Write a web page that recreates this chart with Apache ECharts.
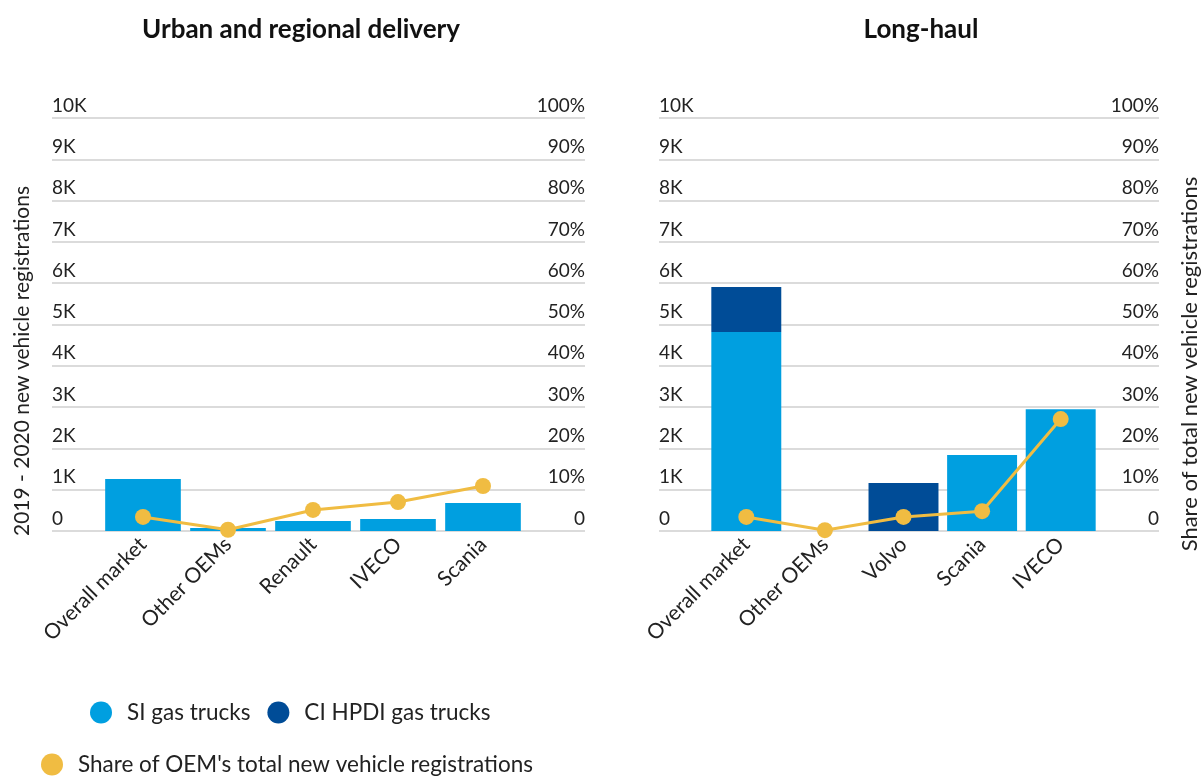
<!DOCTYPE html>
<html>
<head>
<meta charset="utf-8">
<script src="https://cdn.jsdelivr.net/npm/echarts@6/dist/echarts.min.js"></script>
<style>
  html, body { margin: 0; padding: 0; background: #fff; }
  #chart { width: 1202px; height: 776px; }
</style>
</head>
<body>
<div id="chart"></div>
<script>
// urban / regional delivery
const urbanCats = ["Overall market", "Other OEMs", "Renault", "IVECO", "Scania"];
const urbanSI = [1260, 75, 240, 290, 680];
const urbanShare = [3.4, 0.3, 5.1, 7.0, 10.9];

// long-haul
const longCats = ["Overall market", "Other OEMs", "Volvo", "Scania", "IVECO"];
const longSI = [4820, 0, 0, 1840, 2950];
const longCI = [1090, 0, 1160, 0, 0];
const longShare = [3.4, 0.2, 3.4, 4.8, 27.1];

const countTicks = [0, 10000];
const shareTicks = [0, 100];

const FONT = "Lato";
const TEXT = "#222";
const SI_COLOR = "#009fe0";
const CI_COLOR = "#004c97";
const LINE_COLOR = "#f0bc42";
const SHARE_NAME = "Share of OEM's total new vehicle registrations";

const chart = echarts.init(document.getElementById("chart"));

function countLabel(v) {
  return v === 0 ? "0" : v / 1000 + "K";
}
function shareLabel(v) {
  return v === 0 ? "0" : v + "%";
}

function frameAxes(gridIndex) {
  const labelBase = {
    inside: true,
    verticalAlign: "bottom",
    padding: [0, 0, 3, 0],
    fontSize: 19,
    fontFamily: FONT,
    color: TEXT,
  };
  return [
    {
      gridIndex: gridIndex,
      type: "value",
      position: "left",
      min: countTicks[0],
      max: countTicks[1],
      interval: 1000,
      axisLine: { show: false },
      axisTick: { show: false },
      splitLine: { show: true, lineStyle: { color: "#cfcfcf", width: 1.5 } },
      axisLabel: Object.assign({ formatter: countLabel, margin: 0 }, labelBase),
    },
    {
      gridIndex: gridIndex,
      type: "value",
      position: "right",
      min: shareTicks[0],
      max: shareTicks[1],
      interval: 10,
      axisLine: { show: false },
      axisTick: { show: false },
      splitLine: { show: false },
      axisLabel: Object.assign({ formatter: shareLabel, margin: 0 }, labelBase),
    },
  ];
}

function hiddenAxes(gridIndex) {
  return [
    { gridIndex: gridIndex, type: "value", min: countTicks[0], max: countTicks[1], show: false },
    { gridIndex: gridIndex, type: "value", min: shareTicks[0], max: shareTicks[1], show: false },
  ];
}

function catAxis(gridIndex, cats) {
  return {
    gridIndex: gridIndex,
    type: "category",
    data: cats,
    axisLine: { show: false },
    axisTick: { show: false },
    axisLabel: {
      rotate: 45,
      margin: 10,
      fontSize: 21,
      fontFamily: FONT,
      color: TEXT,
      interval: 0,
    },
  };
}

const lineStyle = {
  type: "line",
  symbol: "circle",
  symbolSize: 16,
  itemStyle: { color: LINE_COLOR },
  lineStyle: { color: LINE_COLOR, width: 3 },
  z: 5,
};

const titleStyle = { fontSize: 26, fontWeight: "bold", fontFamily: FONT, color: "#111" };
const legendText = { fontSize: 22.5, fontFamily: FONT, color: TEXT, padding: [0, 0, 0, 10] };

const option = {
  animation: false,
  textStyle: { fontFamily: FONT },
  title: [
    { text: "Urban and regional delivery", left: 296, top: 12, textAlign: "center", textStyle: titleStyle },
    { text: "Long-haul", left: 916, top: 12, textAlign: "center", textStyle: titleStyle },
  ],
  legend: [
    {
      left: 85,
      top: 696,
      icon: "circle",
      itemWidth: 22,
      itemHeight: 22,
      itemGap: 17,
      textStyle: legendText,
      data: ["SI gas trucks", "CI HPDI gas trucks"],
    },
    {
      left: 36,
      top: 748,
      icon: "circle",
      itemWidth: 22,
      itemHeight: 22,
      textStyle: legendText,
      data: [SHARE_NAME],
    },
  ],
  graphic: [
    {
      type: "text",
      x: 22,
      y: 361,
      rotation: Math.PI / 2,
      style: {
        text: "2019 - 2020 new vehicle registrations",
        fontSize: 21,
        fontFamily: FONT,
        fill: TEXT,
        align: "center",
        verticalAlign: "middle",
      },
    },
    {
      type: "text",
      x: 1190,
      y: 364,
      rotation: Math.PI / 2,
      style: {
        text: "Share of total new vehicle registrations",
        fontSize: 22,
        fontFamily: FONT,
        fill: TEXT,
        align: "center",
        verticalAlign: "middle",
      },
    },
  ],
  grid: [
    { left: 52, right: 1202 - 585, top: 118, bottom: 776 - 531 },
    { left: 100.5, right: 1202 - 525.5, top: 118, bottom: 776 - 531 },
    { left: 659, right: 1202 - 1159, top: 118, bottom: 776 - 531 },
    { left: 707, right: 1202 - 1100, top: 118, bottom: 776 - 531 },
  ],
  xAxis: [
    { gridIndex: 0, type: "value", min: 0, max: 1, show: false },
    catAxis(1, urbanCats),
    { gridIndex: 2, type: "value", min: 0, max: 1, show: false },
    catAxis(3, longCats),
  ],
  yAxis: [].concat(frameAxes(0), hiddenAxes(1), frameAxes(2), hiddenAxes(3)),
  series: [
    {
      name: "SI gas trucks",
      type: "bar",
      xAxisIndex: 1,
      yAxisIndex: 2,
      barCategoryGap: "11%",
      itemStyle: { color: SI_COLOR },
      data: urbanSI,
    },
    Object.assign({ name: SHARE_NAME, xAxisIndex: 1, yAxisIndex: 3, data: urbanShare }, lineStyle),
    {
      name: "SI gas trucks",
      type: "bar",
      stack: "long",
      xAxisIndex: 3,
      yAxisIndex: 6,
      barCategoryGap: "11%",
      itemStyle: { color: SI_COLOR },
      data: longSI,
    },
    {
      name: "CI HPDI gas trucks",
      type: "bar",
      stack: "long",
      xAxisIndex: 3,
      yAxisIndex: 6,
      barCategoryGap: "11%",
      itemStyle: { color: CI_COLOR },
      data: longCI,
    },
    Object.assign({ name: SHARE_NAME, xAxisIndex: 3, yAxisIndex: 7, data: longShare }, lineStyle),
  ],
};

chart.setOption(option);
</script>
</body>
</html>
